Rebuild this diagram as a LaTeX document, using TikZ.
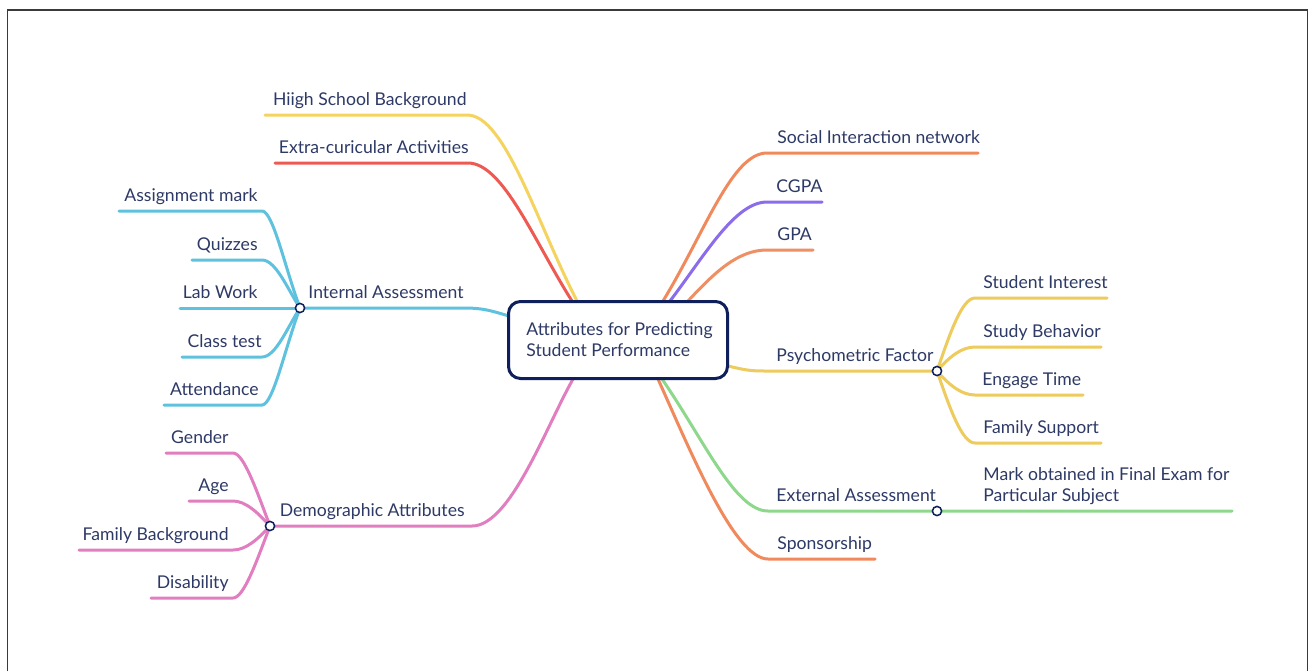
\documentclass[tikz,border=0pt]{standalone}
\usepackage{fontspec}
\setmainfont{Lato}
\definecolor{ink}{HTML}{2E3A66}
\definecolor{navy}{HTML}{0E1F5C}
\definecolor{frame}{HTML}{3A3A3A}
\definecolor{cyellow}{HTML}{F4D35E}
\definecolor{cmustard}{HTML}{EDCB5C}
\definecolor{cred}{HTML}{EE5A52}
\definecolor{cblue}{HTML}{5EC2DF}
\definecolor{cpink}{HTML}{E17EC0}
\definecolor{corange}{HTML}{F08A5D}
\definecolor{clorange}{HTML}{EE9064}
\definecolor{cpurple}{HTML}{8B6CEB}
\definecolor{cgreen}{HTML}{8ED88C}
\begin{document}
\begin{tikzpicture}[x=0.5pt,y=-0.5pt,
  lbl/.style={font=\fontsize{8.8}{10.5}\selectfont, text=ink, inner sep=0pt},
  lblL/.style={lbl, anchor=base east},
  lblR/.style={lbl, anchor=base west},
  branch/.style={line width=1.5pt, line cap=round},
  hub/.style={circle, draw=navy, fill=white, line width=0.75pt, minimum size=4.6pt, inner sep=0pt},
  topic/.style={draw=navy, fill=white, line width=1.5pt, rounded corners=6pt,
    minimum width=109.5pt, minimum height=38.5pt, inner sep=0pt}]
\useasboundingbox (0,0) rectangle (1309,671);
\fill[white] (0,0) rectangle (1309,671);
% outer frame (open at the bottom edge of the page)
\draw[frame, line width=0.8pt] (7.5,671) -- (7.5,10) -- (1307.5,10) -- (1307.5,671);

% ---------- attachment points on the central topic ----------
\coordinate (tHS) at (577,301);
\coordinate (tEC) at (572,301);
\coordinate (tIA) at (509,316);
\coordinate (tDA) at (573,379);
\coordinate (tSI) at (663,301);
\coordinate (tCG) at (670,301);
\coordinate (tGP) at (688,301);
\coordinate (tPF) at (728,366);
\coordinate (tEA) at (662,379);
\coordinate (tSP) at (658,379);

% ---------- hubs ----------
\coordinate (hIA) at (300,308);
\coordinate (hDA) at (270,526);
\coordinate (hPF) at (937,371);
\coordinate (hEA) at (937,511);

% ---------- underline end points ----------
\coordinate (hsA) at (265,115); \coordinate (hsB) at (467,115);
\coordinate (ecA) at (275,163); \coordinate (ecB) at (468,163);
\coordinate (iaB) at (465,308);
\coordinate (daB) at (472,526);
\coordinate (siA) at (767,153); \coordinate (siB) at (978,153);
\coordinate (cgA) at (767,202); \coordinate (cgB) at (822,202);
\coordinate (gpA) at (767,250); \coordinate (gpB) at (813,250);
\coordinate (pfA) at (765,371);
\coordinate (eaA) at (768,511); \coordinate (eaB) at (1232,511);
\coordinate (spA) at (768,559); \coordinate (spB) at (875,559);

\coordinate (amA) at (119,211); \coordinate (amB) at (262,211);
\coordinate (qzA) at (192,260); \coordinate (qzB) at (262,260);
\coordinate (lwA) at (180,308);
\coordinate (ctA) at (182,357); \coordinate (ctB) at (262,357);
\coordinate (atA) at (164,405); \coordinate (atB) at (262,405);

\coordinate (geA) at (166,453); \coordinate (geB) at (233,453);
\coordinate (agA) at (189,501); \coordinate (agB) at (233,501);
\coordinate (fbA) at (79,550);  \coordinate (fbB) at (233,550);
\coordinate (diA) at (151,598); \coordinate (diB) at (233,598);

\coordinate (stA) at (975,298); \coordinate (stB) at (1107,298);
\coordinate (sbA) at (975,347); \coordinate (sbB) at (1101,347);
\coordinate (etA) at (975,395); \coordinate (etB) at (1083,395);
\coordinate (fsA) at (975,443); \coordinate (fsB) at (1101,443);

% ---------- main branches ----------
\draw[branch, cyellow] (hsA) -- (hsB) .. controls (505,115) and (536,221) .. (tHS);
\draw[branch, cred] (ecA) -- (ecB) .. controls (503,163) and (534,241) .. (tEC);
\draw[branch, cblue] (hIA) -- (iaB) .. controls (485,308) and (495,312) .. (tIA);
\draw[branch, cpink] (hDA) -- (daB) .. controls (510,526) and (545,429) .. (tDA);
\draw[branch, corange] (tSI) .. controls (705,232) and (732,153) .. (siA) -- (siB);
\draw[branch, cpurple] (tCG) .. controls (705,255) and (735,202) .. (cgA) -- (cgB);
\draw[branch, clorange] (tGP) .. controls (715,272) and (738,250) .. (gpA) -- (gpB);
\draw[branch, cmustard] (tPF) .. controls (745,370) and (750,371) .. (pfA) -- (hPF);
\draw[branch, corange] (tSP) .. controls (692,455) and (735,559) .. (spA) -- (spB);
\draw[branch, cgreen] (tEA) .. controls (704,440) and (735,511) .. (eaA) -- (eaB);

% ---------- internal assessment leaves ----------
\draw[branch, cblue] (amA) -- (amB) .. controls (273,211) and (285,268) .. (hIA);
\draw[branch, cblue] (qzA) -- (qzB) .. controls (276,260) and (288,290) .. (hIA);
\draw[branch, cblue] (lwA) -- (hIA);
\draw[branch, cblue] (ctA) -- (ctB) .. controls (276,357) and (288,326) .. (hIA);
\draw[branch, cblue] (atA) -- (atB) .. controls (273,405) and (285,348) .. (hIA);

% ---------- demographic leaves ----------
\draw[branch, cpink] (geA) -- (geB) .. controls (244,453) and (257,492) .. (hDA);
\draw[branch, cpink] (agA) -- (agB) .. controls (246,501) and (258,513) .. (hDA);
\draw[branch, cpink] (fbA) -- (fbB) .. controls (246,550) and (258,539) .. (hDA);
\draw[branch, cpink] (diA) -- (diB) .. controls (244,598) and (257,560) .. (hDA);

% ---------- psychometric leaves ----------
\draw[branch, cmustard] (hPF) .. controls (950,333) and (962,298) .. (stA) -- (stB);
\draw[branch, cmustard] (hPF) .. controls (950,356) and (962,347) .. (sbA) -- (sbB);
\draw[branch, cmustard] (hPF) .. controls (950,386) and (962,395) .. (etA) -- (etB);
\draw[branch, cmustard] (hPF) .. controls (950,409) and (962,443) .. (fsA) -- (fsB);

% ---------- central topic ----------
\node[topic] (topic) at (618,340) {};
% multi-line labels: the base anchor sits on the last line
\node[lbl, anchor=base west, align=left] (topicText) at (526,356)
  {Attributes for Predicting\\[-0.3pt]Student Performance};

% ---------- hubs on top ----------
\node[hub] (hubIA) at (hIA) {};
\node[hub] (hubDA) at (hDA) {};
\node[hub] (hubPF) at (hPF) {};
\node[hub] (hubEA) at (hEA) {};

% ---------- labels ----------
\node[lblL] (lHS) at (467,105) {Hiigh School Background};
\node[lblL] (lEC) at (469,153) {Extra-curicular Activities};
\node[lblL] (lIA) at (464,298) {Internal Assessment};
\node[lblL] (lDA) at (465,516) {Demographic Attributes};

\node[lblL] (lAM) at (258,201) {Assignment mark};
\node[lblL] (lQZ) at (258,250) {Quizzes};
\node[lblL] (lLW) at (258,298) {Lab Work};
\node[lblL] (lCT) at (262,347) {Class test};
\node[lblL] (lAT) at (259,395) {Attendance};

\node[lblL] (lGE) at (229,443) {Gender};
\node[lblL] (lAG) at (229,491) {Age};
\node[lblL] (lFB) at (229,540) {Family Background};
\node[lblL] (lDI) at (229,588) {Disability};

\node[lblR] (lSI) at (777,143) {Social Interaction network};
\node[lblR] (lCG) at (776,192) {CGPA};
\node[lblR] (lGP) at (777,240) {GPA};
\node[lblR] (lPF) at (776,361) {Psychometric Factor};
\node[lblR] (lEA) at (776,501) {External Assessment};
\node[lblR] (lSP) at (777,549) {Sponsorship};

\node[lblR] (lST) at (983,288) {Student Interest};
\node[lblR] (lSB) at (983,337) {Study Behavior};
\node[lblR] (lET) at (982,385) {Engage Time};
\node[lblR] (lFS) at (983,433) {Family Support};
\node[lblR, align=left] (lMO) at (983,501) {Mark obtained in Final Exam for\\[-0.3pt]Particular Subject};
\end{tikzpicture}
\end{document}
